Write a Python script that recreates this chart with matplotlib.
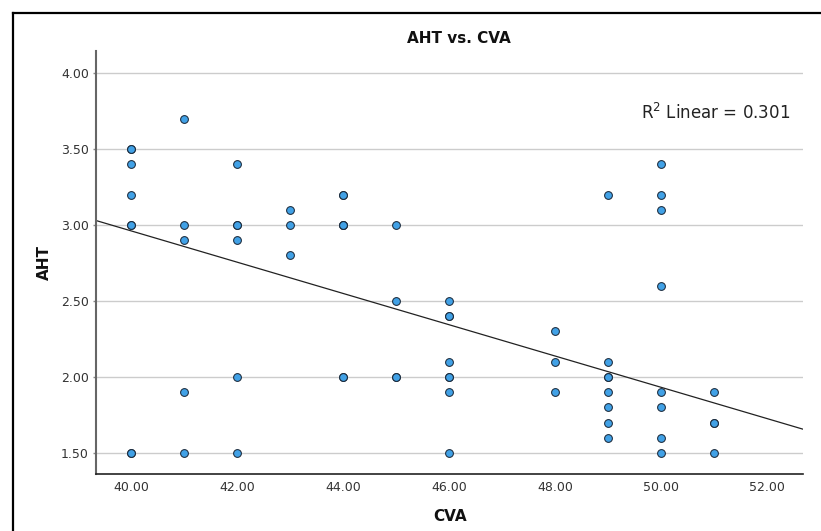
import matplotlib
matplotlib.use("Agg")
import matplotlib.pyplot as plt
from matplotlib.lines import Line2D
import numpy as np

# CVA / AHT pairs (repeats = overlapping points)
cva = [40, 40, 40, 40, 40, 40, 40, 40,
       41, 41, 41, 41, 41,
       42, 42, 42, 42, 42, 42,
       43, 43, 43,
       44, 44, 44, 44, 44, 44, 44,
       45, 45, 45, 45,
       46, 46, 46, 46, 46, 46, 46, 46,
       48, 48, 48,
       49, 49, 49, 49, 49, 49, 49, 49,
       50, 50, 50, 50, 50, 50, 50, 50,
       51, 51, 51, 51]
aht = [3.5, 3.5, 3.4, 3.2, 3.0, 3.0, 1.5, 1.5,
       3.7, 3.0, 2.9, 1.9, 1.5,
       3.4, 3.0, 3.0, 2.9, 2.0, 1.5,
       3.1, 3.0, 2.8,
       3.2, 3.2, 3.0, 3.0, 3.0, 2.0, 2.0,
       3.0, 2.5, 2.0, 2.0,
       2.5, 2.4, 2.4, 2.1, 2.0, 2.0, 1.9, 1.5,
       2.3, 2.1, 1.9,
       3.2, 2.1, 2.0, 2.0, 1.9, 1.8, 1.7, 1.6,
       3.4, 3.2, 3.1, 2.6, 1.9, 1.8, 1.6, 1.5,
       1.9, 1.7, 1.7, 1.5]

# fit line as drawn in the picture
fit_intercept = 7.077
fit_slope = -0.1029
r2_label = "R$^2$ Linear = 0.301"

xticks = [40, 42, 44, 46, 48, 50, 52]
yticks = [1.5, 2.0, 2.5, 3.0, 3.5, 4.0]

fig = plt.figure(figsize=(8.21, 5.31), dpi=100)
ax = fig.add_axes([0.1169, 0.1073, 0.861, 0.7966])

ax.set_xlim(39.33, 52.67)
ax.set_ylim(1.362, 4.145)

ax.set_yticks(yticks)
ax.set_yticklabels(["%.2f" % v for v in yticks])
ax.set_xticks(xticks)
ax.set_xticklabels(["%.2f" % v for v in xticks])
ax.tick_params(axis="y", length=2, width=1, color="#888888", labelsize=9, labelcolor="#333333", pad=3)
ax.tick_params(axis="x", length=0, labelsize=9, labelcolor="#333333", pad=5)

ax.grid(axis="y", color="#cccccc", linewidth=1)
ax.set_axisbelow(True)
for s in ["top", "right"]:
    ax.spines[s].set_visible(False)
ax.spines["left"].set_color("#666666")
ax.spines["left"].set_linewidth(1.5)
ax.spines["bottom"].set_color("#222222")
ax.spines["bottom"].set_linewidth(1.2)

xs = np.array(ax.get_xlim())
ax.plot(xs, fit_intercept + fit_slope * xs, color="#222222", linewidth=0.9, zorder=2)

ax.plot(cva, aht, linestyle="none", marker="o", markersize=5.6,
        markerfacecolor="#41a1e6", markeredgecolor="#1c2b3c", markeredgewidth=0.75, zorder=3)

ax.text(0.982, 0.853, r2_label, transform=ax.transAxes, ha="right", va="center",
        fontsize=12, color="#222222")

fig.text(0.559, 0.928, "AHT vs. CVA", ha="center", va="center", fontsize=11,
         fontweight="bold", color="#111111")
fig.text(0.054, 0.505, "AHT", ha="center", va="center", rotation=90, fontsize=11,
         fontweight="bold", color="#111111")
fig.text(0.548, 0.027, "CVA", ha="center", va="center", fontsize=11,
         fontweight="bold", color="#111111")

# outer frame (top and left edges visible)
fig.add_artist(Line2D([13 / 821, 1.0], [1 - 12.5 / 531] * 2, transform=fig.transFigure,
                      color="black", linewidth=1.6))
fig.add_artist(Line2D([13 / 821] * 2, [0.0, 1 - 12.5 / 531], transform=fig.transFigure,
                      color="black", linewidth=1.6))

fig.savefig("out.png", dpi=100)
